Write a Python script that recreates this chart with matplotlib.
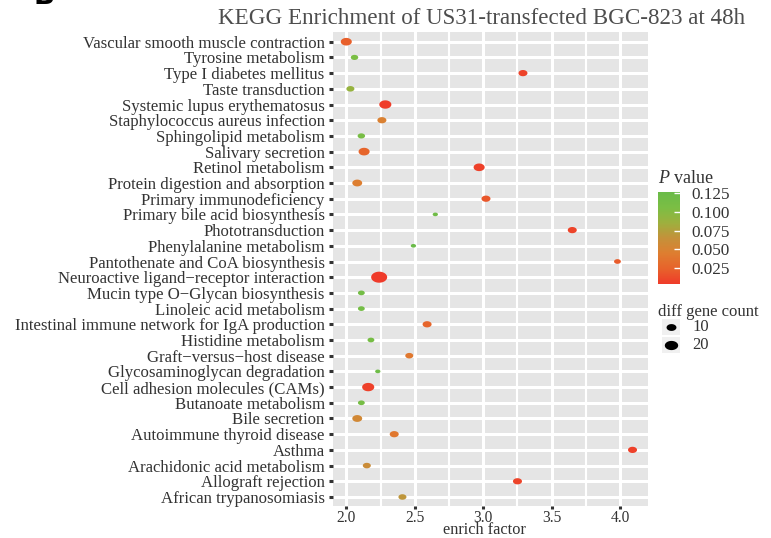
import numpy as np
import matplotlib
matplotlib.use("Agg")
import matplotlib.pyplot as plt
from matplotlib.path import Path
from matplotlib.colors import LinearSegmentedColormap, Normalize
from matplotlib.cm import ScalarMappable

plt.rcParams['font.family'] = ['Liberation Serif', 'DejaVu Serif']
plt.rcParams['mathtext.fontset'] = 'custom'
plt.rcParams['mathtext.it'] = 'Liberation Serif:italic'
plt.rcParams['mathtext.rm'] = 'Liberation Serif'

# pathways, bottom to top (alphabetical, as ggplot puts them)
pathways = [
    "African trypanosomiasis", "Allograft rejection", "Arachidonic acid metabolism",
    "Asthma", "Autoimmune thyroid disease", "Bile secretion", "Butanoate metabolism",
    "Cell adhesion molecules (CAMs)", "Glycosaminoglycan degradation",
    "Graft\u2212versus\u2212host disease", "Histidine metabolism",
    "Intestinal immune network for IgA production", "Linoleic acid metabolism",
    "Mucin type O\u2212Glycan biosynthesis", "Neuroactive ligand\u2212receptor interaction",
    "Pantothenate and CoA biosynthesis", "Phenylalanine metabolism", "Phototransduction",
    "Primary bile acid biosynthesis", "Primary immunodeficiency",
    "Protein digestion and absorption", "Retinol metabolism", "Salivary secretion",
    "Sphingolipid metabolism", "Staphylococcus aureus infection",
    "Systemic lupus erythematosus", "Taste transduction", "Type I diabetes mellitus",
    "Tyrosine metabolism", "Vascular smooth muscle contraction",
]
enrich = [2.41, 3.25, 2.15, 4.09, 2.35, 2.08, 2.11, 2.16, 2.23, 2.46,
          2.18, 2.59, 2.11, 2.11, 2.24, 3.98, 2.49, 3.65, 2.65, 3.02,
          2.08, 2.97, 2.13, 2.11, 2.26, 2.285, 2.03, 3.29, 2.06, 2.00]
counts = [6, 8, 6, 8, 8, 10, 4, 16, 2, 6,
          4, 8, 4, 4, 30, 4, 2, 8, 2, 8,
          10, 13, 13, 5, 8, 16, 6, 8, 5, 13]
pvals = [0.068, 0.008, 0.060, 0.006, 0.040, 0.055, 0.112, 0.006, 0.122, 0.040,
         0.112, 0.025, 0.115, 0.115, 0.003, 0.020, 0.127, 0.008, 0.120, 0.018,
         0.045, 0.006, 0.025, 0.110, 0.048, 0.004, 0.090, 0.007, 0.108, 0.022]
cbar_ticks = [0.025, 0.050, 0.075, 0.100, 0.125]
size_breaks = [10, 20]

W, H = 771, 538
fig = plt.figure(figsize=(W / 100, H / 100), dpi=100)

# ellipse marker (points in the source are stretched horizontally)
t = np.linspace(0, 2 * np.pi, 64)
ell = Path(np.column_stack([np.cos(t), np.sin(t) / 1.45]), closed=True)

cmin, cmax = min(counts), max(counts)
def msize(c):
    d = 5.3 + 10.7 * (np.sqrt(c) - np.sqrt(cmin)) / (np.sqrt(cmax) - np.sqrt(cmin))
    return (np.asarray(d) * 0.72) ** 2

cmap = LinearSegmentedColormap.from_list(
    "pv", ["#EF3B2A", "#E7632B", "#DE7E30", "#C4913A", "#9DB03E", "#7BBE44", "#6ABB48"])
norm = Normalize(vmin=min(pvals), vmax=max(pvals))

ax = fig.add_axes([333 / W, 1 - 506.4 / H, (648 - 333) / W, (506.4 - 32.3) / H])
ax.set_facecolor("#E5E5E5")
y = np.arange(len(pathways))
ax.scatter(enrich, y, s=msize(counts), c=pvals, cmap=cmap, norm=norm,
           marker=ell, linewidths=0, zorder=3)
ax.set_xlim(1.903, 4.203)
ax.set_ylim(-0.6, len(pathways) - 0.4)
ax.set_yticks(y)
ax.set_yticklabels(pathways)
ax.set_xticks([2.0, 2.5, 3.0, 3.5, 4.0])
ax.set_xticks([2.25, 2.75, 3.25, 3.75], minor=True)
ax.grid(True, which="major", color="white", lw=2.2, zorder=0)
ax.grid(True, which="minor", axis="x", color="white", lw=1.5, zorder=0)
ax.set_axisbelow(True)
for s in ax.spines.values():
    s.set_visible(False)
ax.tick_params(which="major", length=3, width=2.2, color="#333333",
               labelsize=12.1, labelcolor="#333333")
ax.tick_params(axis="y", pad=3)
ax.tick_params(axis="x", pad=0, labelsize=11.2, length=2.5)
ax.tick_params(which="minor", length=0)
fig.text(484 / W, 1 - 534 / H, "enrich factor", ha="center", va="baseline",
         fontsize=11.8, color="#333333")

fig.text(482 / W, 1 - 24 / H, "KEGG Enrichment of US31-transfected BGC-823 at 48h",
         ha="center", va="baseline", fontsize=16.6, color="#4D4D4D")
fig.text(33 / W, 1 - 4 / H, "B", ha="left", va="baseline", fontsize=20,
         fontweight="bold", family="DejaVu Sans", color="black")

# colour legend
fig.text(658 / W, 1 - 183 / H, r"$\mathit{P}$ value", fontsize=13, color="#333333")
cax = fig.add_axes([658 / W, 1 - 284 / H, 22 / W, 92 / H])
cb = fig.colorbar(ScalarMappable(norm=norm, cmap=cmap), cax=cax, ticks=cbar_ticks)
cb.outline.set_visible(False)
cb.ax.set_yticklabels([f"{v:.3f}" for v in cbar_ticks])
cb.ax.tick_params(length=4, width=1, color="white", direction="in",
                  labelsize=12.3, labelcolor="#333333", pad=8)

# size legend
lax = fig.add_axes([0, 0, 1, 1], zorder=5)
lax.set_xlim(0, W)
lax.set_ylim(H, 0)
lax.axis("off")
fig.text(658 / W, 1 - 316 / H, "diff gene count", fontsize=12, color="#333333")
for i, b in enumerate(size_breaks):
    yc = 327 + 18 * i
    lax.add_patch(plt.Rectangle((662, yc - 8), 18, 16, color="#F0F0F0", lw=0))
    lax.scatter([671], [yc], s=msize(b), marker=ell, color="black", linewidths=0)
    lax.text(692, yc, str(b), va="center", ha="left", fontsize=12, color="#333333")

fig.savefig("out.png", dpi=100)
